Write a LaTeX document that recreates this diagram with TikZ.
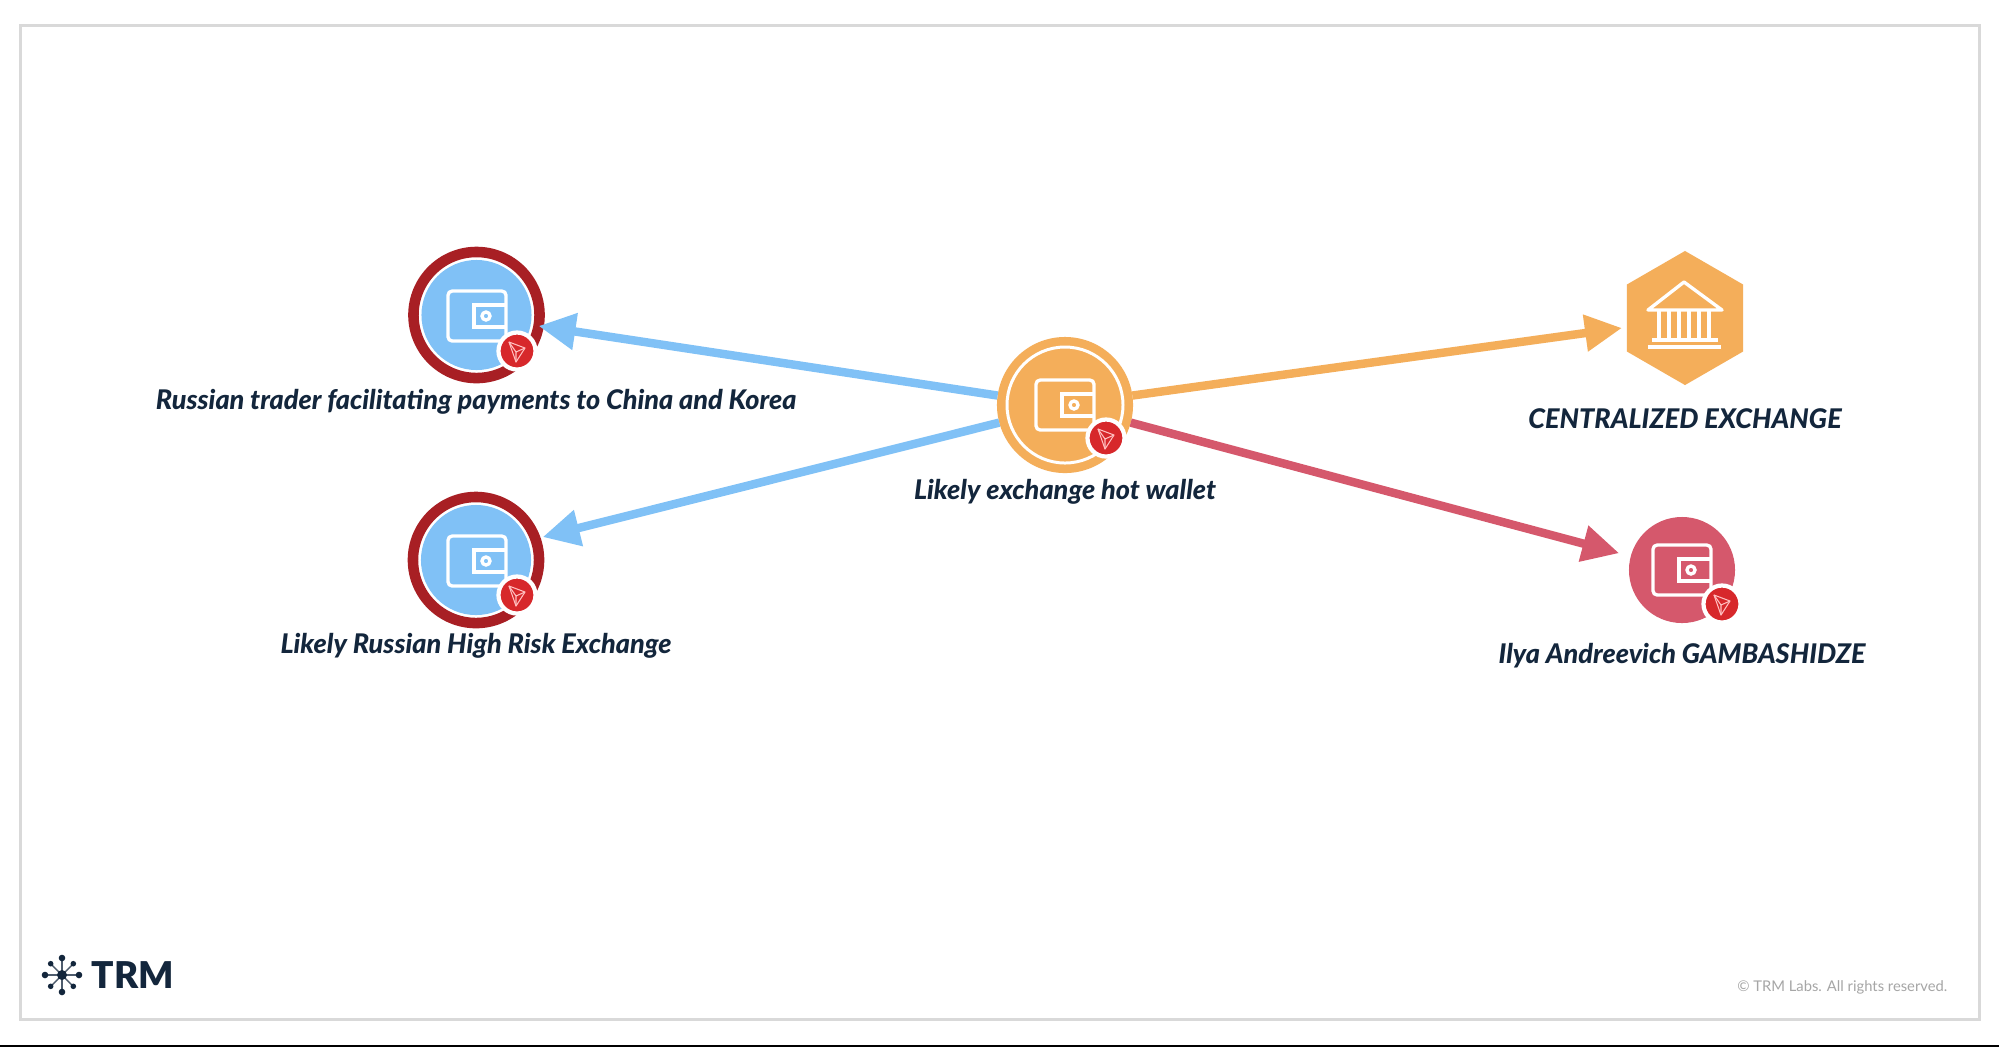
\documentclass[tikz,border=0pt]{standalone}
\usepackage{fontspec}
\usepackage{tikz}
\usetikzlibrary{shapes.geometric}
\usetikzlibrary{arrows.meta}
\setmainfont{Lato}[BoldFont={Lato Black}, BoldItalicFont={Lato Black Italic}]

\definecolor{skyblue}{HTML}{80C1F6}
\definecolor{ringred}{HTML}{A81F24}
\definecolor{amber}{HTML}{F4AE5A}
\definecolor{rosered}{HTML}{D5586C}
\definecolor{tronred}{HTML}{D7282B}
\definecolor{inkblue}{HTML}{13263C}

\tikzset{
  disc/.style={circle, inner sep=0, outer sep=0, draw=none},
  walletring/.style={disc, fill=white, draw=ringred, line width=3pt, minimum size=1.26cm},
  walletlabel/.style={inner sep=0, text=inkblue, font=\fontsize{7.7}{9}\selectfont\bfseries\itshape},
  tronbadge/.style={disc, fill=tronred, draw=white, line width=1.2pt, minimum size=0.37cm},
  flow/.style={line width=2.4pt, -{Triangle[length=10.5pt, width=10pt]}},
  iconline/.style={white, line width=0.95pt}
}

\newcommand{\walleticon}[2]{
  \begin{scope}[shift={(#1,#2)}]
    \draw [iconline, rounded corners=1.2pt] (-29,-25) rectangle (29,25);
    \draw [iconline] (29,-11) -- (-3,-11) -- (-3,11) -- (29,11);
    \draw [iconline] (9,0) circle (4);
  \end{scope}
}
\newcommand{\tronmark}[2]{
  \begin{scope}[shift={(#1,#2)}]
    \draw [line width=0.3pt, red!25!white, line join=round] (-8,-9) -- (8,-3) -- (-1,11) -- cycle;
    \draw [line width=0.3pt, red!25!white, line join=round] (-8,-9) -- (-1,1) -- (8,-3) (-1,1) -- (-1,11);
  \end{scope}
}

\begin{document}
\begin{tikzpicture}[x=0.01cm, y=-0.01cm]
   \useasboundingbox (0,0) rectangle (1999,1047);
   \fill [white] (0,0) rectangle (1999,1047);
   \draw [black!15, line width=0.85pt] (20.5,25.5) rectangle (1979,1019);
   \fill [black] (0,1045) rectangle (1999,1047);

   % wallets on the left
   \node [walletring] (trader) at (476.5,315) {};
   \node [disc, fill=skyblue, minimum size=1.1cm] (traderfill) at (476.5,315) {};
   \walleticon{477}{316}
   \node [tronbadge] (traderbadge) at (517,351) {};
   \tronmark{517}{351}
   \node [walletlabel] (traderlabel) at (476,402) {Russian trader facilitating payments to China and Korea};

   \node [walletring, outer sep=0.075cm] (riskex) at (476,560) {};
   \node [disc, fill=skyblue, minimum size=1.1cm] (riskexfill) at (476,560) {};
   \walleticon{477}{561}
   \node [tronbadge] (riskexbadge) at (517,595) {};
   \tronmark{517}{595}
   \node [walletlabel] (riskexlabel) at (476,646) {Likely Russian High Risk Exchange};

   % hot wallet in the middle
   \node [disc, fill=amber, minimum size=1.36cm] (hot) at (1065,405) {};
   \draw [white, line width=0.85pt] (hot.center) circle (58);
   \walleticon{1065}{405}
   \node [tronbadge] (hotbadge) at (1106,438) {};
   \tronmark{1106}{438}
   \node [walletlabel] (hotlabel) at (1065,492) {Likely exchange hot wallet};

   % exchange and person on the right
   \node [regular polygon, regular polygon sides=6, shape border rotate=30, fill=amber, inner sep=0,
          outer sep=0.05cm, minimum size=1.34cm] (bank) at (1685,318) {};
   \draw [iconline, fill=amber, line join=round] (1684,282) -- (1722,310) -- (1648,310) -- cycle;
   \foreach \colx in {1659,1669,1679,1689,1699,1709}
      \draw [iconline] (\colx,310) -- (\colx,338);
   \draw [iconline] (1652,340) -- (1718,340);
   \draw [iconline] (1648,347) -- (1721,347);
   \node [walletlabel] (banklabel) at (1685,419) {CENTRALIZED EXCHANGE};

   \node [disc, fill=rosered, minimum size=1.06cm, outer sep=0.12cm] (person) at (1682,570) {};
   \walleticon{1682}{570}
   \node [tronbadge] (personbadge) at (1722,604) {};
   \tronmark{1722}{604}
   \node [walletlabel] (personlabel) at (1682,656) {Ilya Andreevich GAMBASHIDZE};

   % flows
   \draw [flow, skyblue] (hot.172) -- (trader.-10);
   \draw [flow, skyblue] (hot.195) -- (riskex.19);
   \draw [flow, amber] (hot.8) -- (bank.189);
   \draw [flow, rosered] (hot.345) -- (person.165);

   % logo and footer
   \foreach \ang in {0,90,180,270} {
      \draw [inkblue!75, line width=0.4pt] (62,975) -- +(\ang:16);
      \fill [inkblue] (62,975) +(\ang:17) circle (3.3);
   }
   \foreach \ang in {45,135,225,315} {
      \draw [inkblue!75, line width=0.4pt] (62,975) -- +(\ang:15);
      \fill [inkblue] (62,975) +(\ang:16) circle (2.8);
   }
   \fill [inkblue] (62,975) circle (5);
   \node [inner sep=0, anchor=west, text=inkblue, font=\fontsize{10.5}{13}\selectfont\bfseries] (logotext) at (91,975) {TRM};
   \node [inner sep=0, anchor=east, text=black!35, font=\fontsize{4.2}{6}\selectfont] (rights) at (1948,987) {© TRM Labs. All rights reserved.};
\end{tikzpicture}
\end{document}
